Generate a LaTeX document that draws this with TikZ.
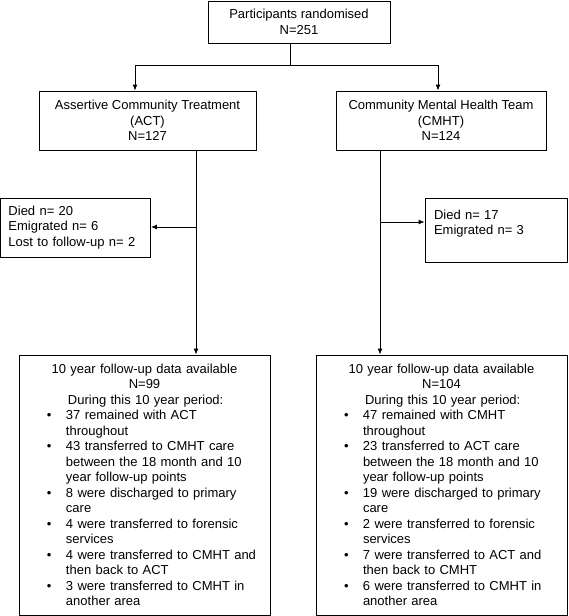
\documentclass[tikz,border=0pt]{standalone}
\usepackage{fontspec}
\setmainfont{Liberation Sans}
\usetikzlibrary{arrows.meta}
\newcommand{\blt}{\hspace*{28pt}\makebox[19pt][l]{\textbullet}}
\newcommand{\cnt}{\hspace*{47pt}}
\begin{document}
\begin{tikzpicture}[x=1pt,y=-1pt,
  box/.style={draw,line width=0.9pt,inner sep=0pt,align=center,font=\fontsize{13}{15.5}\selectfont},
  lbox/.style={box,align=left},
  conn/.style={line width=0.9pt},
  arr/.style={conn,-{Latex[length=6pt,width=5pt]}}]
\useasboundingbox (0,0) rectangle (568,616);
\node[box,minimum width=182pt,minimum height=42pt] (top) at (299,22) {Participants randomised\\N=251};
\node[box,minimum width=217pt,minimum height=59pt] (act) at (147.5,120.5) {Assertive Community Treatment\\(ACT)\\N=127};
\node[box,minimum width=210pt,minimum height=59pt] (cmht) at (441,120.5) {Community Mental Health Team\\(CMHT)\\N=124};
\node[lbox,minimum width=150pt,minimum height=59pt,text width=150pt] (diedL) at (75.5,227.5) {\hspace*{8pt}Died n= 20\\\hspace*{8pt}Emigrated n= 6\\\hspace*{8pt}Lost to follow-up n= 2};
\node[lbox,minimum width=142pt,minimum height=64pt,text width=142pt] (diedR) at (496,230) {\hspace*{9pt}Died n= 17\\\hspace*{9pt}Emigrated n= 3\\\mbox{}};
\node[lbox,minimum width=251pt,minimum height=260pt,text width=251pt] (fuL) at (144.5,485) {%
\makebox[251pt]{10 year follow-up data available}\\
\makebox[251pt]{N=99}\\
\hspace*{49pt}During this 10 year period:\\
\blt 37 remained with ACT\\
\cnt throughout\\
\blt 43 transferred to CMHT care\\
\cnt between the 18 month and 10\\
\cnt year follow-up points\\
\blt 8 were discharged to primary\\
\cnt care\\
\blt 4 were transferred to forensic\\
\cnt services\\
\blt 4 were transferred to CMHT and\\
\cnt then back to ACT\\
\blt 3 were transferred to CMHT in\\
\cnt another area};
\node[lbox,minimum width=251pt,minimum height=260pt,text width=251pt] (fuR) at (441.5,485) {%
\makebox[251pt]{10 year follow-up data available}\\
\makebox[251pt]{N=104}\\
\hspace*{49pt}During this 10 year period:\\
\blt 47 remained with CMHT\\
\cnt throughout\\
\blt 23 transferred to ACT care\\
\cnt between the 18 month and 10\\
\cnt year follow-up points\\
\blt 19 were discharged to primary\\
\cnt care\\
\blt 2 were transferred to forensic\\
\cnt services\\
\blt 7 were transferred to ACT and\\
\cnt then back to CMHT\\
\blt 6 were transferred to CMHT in\\
\cnt another area};
\coordinate (split) at (290,65);
\coordinate (lsplit) at (135,65);
\coordinate (rsplit) at (438,65);
\coordinate (lv) at (196,227);
\coordinate (rv) at (380,222);
\draw[conn] (split |- top.south) -- (split);
\draw[conn] (lsplit) -- (rsplit);
\draw[arr] (lsplit) -- (lsplit |- act.north);
\draw[arr] (rsplit) -- (rsplit |- cmht.north);
\draw[arr] (lv |- act.south) -- (lv |- fuL.north);
\draw[arr] (rv |- cmht.south) -- (rv |- fuR.north);
\draw[arr] (lv) -- (diedL.east |- lv);
\draw[arr] (rv) -- (diedR.west |- rv);
\end{tikzpicture}
\end{document}
